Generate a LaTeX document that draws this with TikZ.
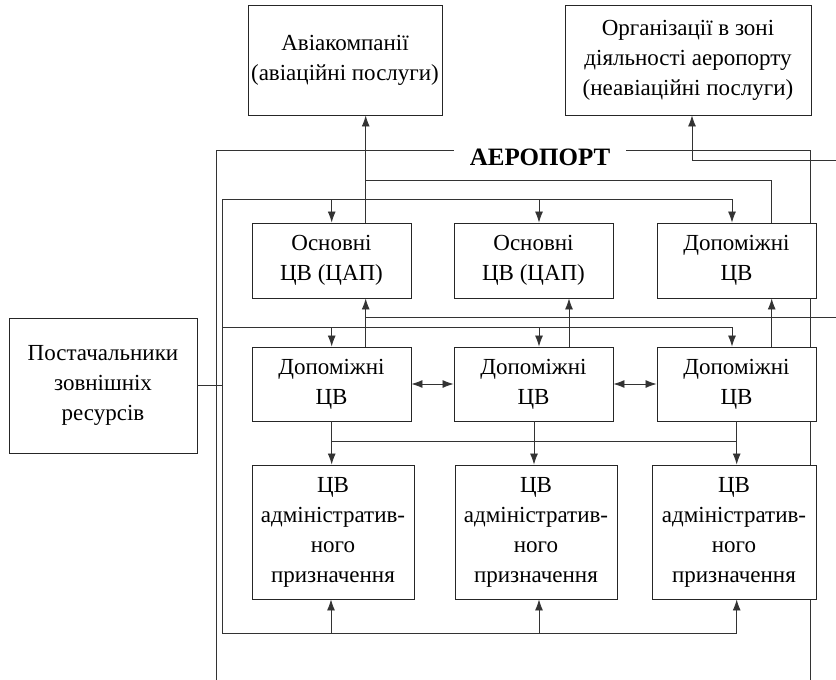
\documentclass[tikz,border=0pt]{standalone}
\usepackage{fontspec}
\setmainfont{Liberation Serif}
\newfontfamily\tms{Liberation Serif}
\usetikzlibrary{arrows.meta}
\pgfdeclarelayer{bg}
\pgfsetlayers{bg,main}
\begin{document}
\begin{tikzpicture}[x=1pt,y=-1pt,
  box/.style={draw=black!85, line width=0.9pt, fill=white, align=center, inner sep=0pt, font=\tms\fontsize{23}{30}\selectfont},
  ln/.style={draw=black!80, line width=0.85pt},
  arr/.style={ln, -{Latex[length=11pt,width=8pt]}},
  darr/.style={ln, {Latex[length=11pt,width=8pt]}-{Latex[length=11pt,width=8pt]}}]
\useasboundingbox (0,0) rectangle (836,680);
% nodes
\node[box, minimum width=194, minimum height=110] (A) at (345,60) {Авіакомпанії\\(авіаційні послуги)};
\node[box, minimum width=246, minimum height=110] (B) at (688,60) {Організації в зоні\\діяльності аеропорту\\(неавіаційні послуги)};
\node[box, minimum width=188, minimum height=135] (S) at (103,385.5) {Постачальники\\зовнішніх\\ресурсів};
\node[font=\tms\bfseries\fontsize{25}{30}\selectfont, inner xsep=16pt, inner ysep=0pt] (lab) at (540,157) {АЕРОПОРТ};
\node[box, minimum width=159, minimum height=75] (T1) at (331.5,260.5) {Основні\\ЦВ (ЦАП)};
\node[box, minimum width=159, minimum height=75] (T2) at (533.5,260.5) {Основні\\ЦВ (ЦАП)};
\node[box, minimum width=159, minimum height=75] (T3) at (736.5,260.5) {Допоміжні\\ЦВ};
\node[box, minimum width=159, minimum height=74] (M1) at (331.5,384) {Допоміжні\\ЦВ};
\node[box, minimum width=159, minimum height=74] (M2) at (533.5,384) {Допоміжні\\ЦВ};
\node[box, minimum width=159, minimum height=74] (M3) at (736.5,384) {Допоміжні\\ЦВ};
\node[box, minimum width=162, minimum height=134] (L1) at (333,532) {ЦВ\\адміністратив-\\ного\\призначення};
\node[box, minimum width=162, minimum height=134] (L2) at (536,532) {ЦВ\\адміністратив-\\ного\\призначення};
\node[box, minimum width=164, minimum height=134] (L3) at (734,532) {ЦВ\\адміністратив-\\ного\\призначення};
% frame
\coordinate (ftl) at (216,150);
\coordinate (fbl) at (216,680);
\coordinate (ftr) at (810,150);
\coordinate (fbr) at (810,680);
\begin{pgfonlayer}{bg}
\draw[ln] (lab.west |- ftl) -- (ftl) -- (fbl);
\draw[ln] (lab.east |- ftr) -- (ftr) -- (fbr);
\end{pgfonlayer}
% inner bus
\draw[ln] (732,199) -- (222,199) -- (222,633) -- (736.7,633);
\draw[arr] (331.7,199) -- (T1.north -| 331.7,0);
\draw[arr] (539,199) -- (T2.north -| 539,0);
\draw[arr] (732,199) -- (T3.north -| 732,0);
% top outputs
\draw[arr] (T1.north -| 365.7,0) -- (A.south -| 365.7,0);
\draw[ln] (365.7,180) -- (771.7,180) -- (T3.north -| 771.7,0);
\draw[arr] (836,160) -- (692,160) -- (B.south -| 692,0);
% middle
\draw[ln] (365.7,317) -- (836,317);
\draw[arr] (M1.north -| 365.7,0) -- (T1.south -| 365.7,0);
\draw[arr] (M2.north -| 569,0) -- (T2.south -| 569,0);
\draw[arr] (M3.north -| 771.7,0) -- (T3.south -| 771.7,0);
\draw[ln] (222,327) -- (732,327);
\draw[arr] (331.7,327) -- (M1.north -| 331.7,0);
\draw[arr] (539,327) -- (M2.north -| 539,0);
\draw[arr] (732,327) -- (M3.north -| 732,0);
\draw[darr] (M1.east) -- (M2.west);
\draw[darr] (M2.east) -- (M3.west);
\draw[ln] (S.east) -- (S.east -| 222,0);
% bottom
\draw[arr] (M1.south -| 331.7,0) -- (L1.north -| 331.7,0);
\draw[arr] (M2.south -| 534,0) -- (L2.north -| 534,0);
\draw[arr] (M3.south -| 736.7,0) -- (L3.north -| 736.7,0);
\draw[ln] (331.7,441) -- (736.7,441);
\draw[arr] (331,633) -- (L1.south -| 331,0);
\draw[arr] (539,633) -- (L2.south -| 539,0);
\draw[arr] (736.7,633) -- (L3.south -| 736.7,0);
\end{tikzpicture}
\end{document}
